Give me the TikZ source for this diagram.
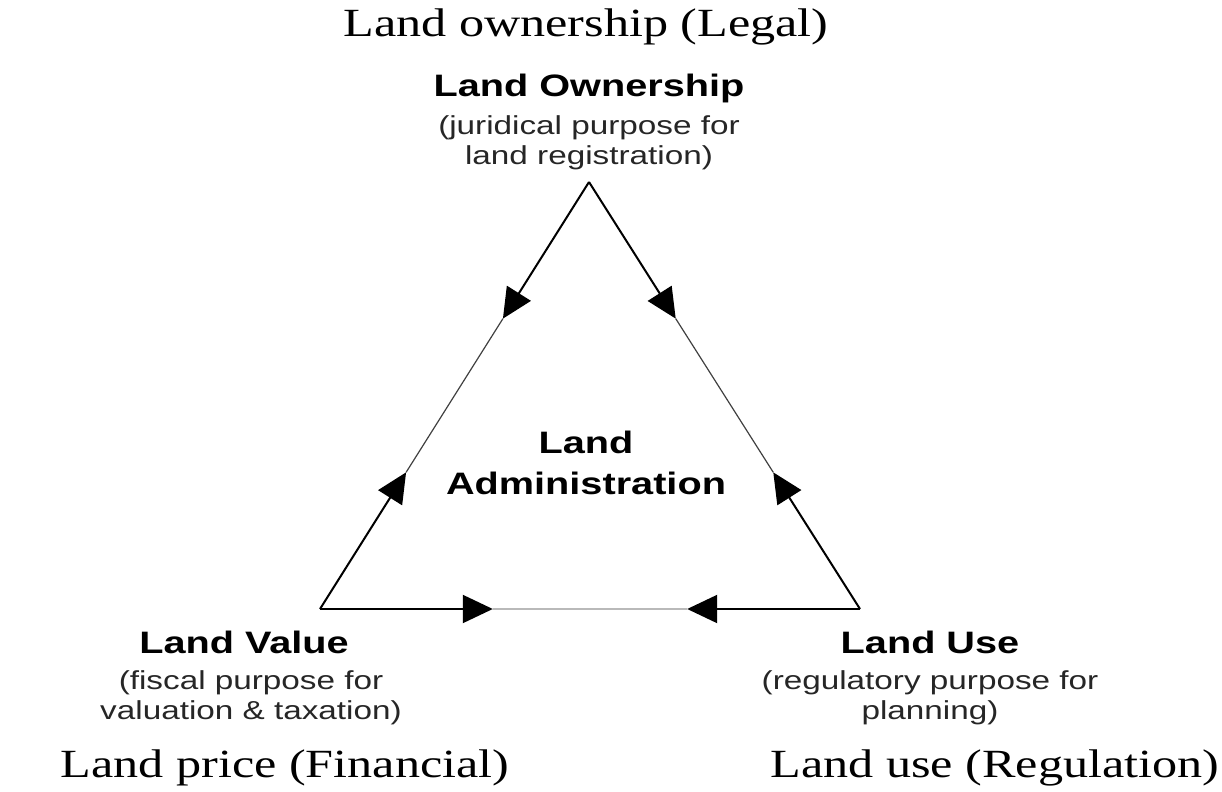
\documentclass[tikz,border=0pt]{standalone}
\usepackage{fontspec}
\setmainfont{Liberation Serif}[FakeStretch=1.255]
\newfontfamily\diagsans{Liberation Sans}[FakeStretch=1.28]
\usetikzlibrary{arrows.meta,calc}

\begin{document}
\begin{tikzpicture}[x=0.5pt,y=-0.5pt,
    side/.style={line width=1pt,-{Triangle[length=15pt,width=14pt]}},
    midline/.style={line width=0.6pt,black!75},
    title/.style={font=\diagsans\bfseries\fontsize{15.5}{20.5}\selectfont,align=center,anchor=base,inner sep=0pt},
    sub/.style={font=\diagsans\fontsize{13}{15}\selectfont,text=black!85,align=center,anchor=base,inner sep=0pt},
    view/.style={font=\fontsize{20}{24}\selectfont,anchor=base,inner sep=0pt}
  ]
  \useasboundingbox (0,0) rectangle (1222,792);

  % corners of the triangle
  \coordinate (own) at (589,182);
  \coordinate (val) at (320,609);
  \coordinate (use) at (860,609);
  \coordinate (ownval) at ($(own)!0.32!(val)$);
  \coordinate (valown) at ($(val)!0.32!(own)$);
  \coordinate (ownuse) at ($(own)!0.32!(use)$);
  \coordinate (useown) at ($(use)!0.32!(own)$);
  \coordinate (valuse) at ($(val)!0.32!(use)$);
  \coordinate (useval) at ($(use)!0.32!(val)$);

  % middle parts
  \draw[midline] (ownval) -- (valown);
  \draw[midline] (ownuse) -- (useown);
  \draw[line width=1pt,gray!55] (valuse) -- (useval);

  % arrows from each corner
  \draw[side] (own) -- (ownval);
  \draw[side] (own) -- (ownuse);
  \draw[side] (val) -- (valown);
  \draw[side] (val) -- (valuse);
  \draw[side] (use) -- (useown);
  \draw[side] (use) -- (useval);

  % labels
  \node[view] (legal) at (586,37) {Land ownership (Legal)};
  \node[title] (ownt) at (589,97) {Land Ownership};
  \node[sub] (owns) at (589,165) {(juridical purpose for\\land registration)};

  \node[title] (admin) at (586,494) {Land\\Administration};

  \node[title] (valt) at (244,653) {Land Value};
  \node[sub] (vals) at (251,719) {(fiscal purpose for\\valuation \& taxation)};
  \node[view] (fin) at (285,777) {Land price (Financial)};

  \node[title] (uset) at (930,653) {Land Use};
  \node[sub] (uses) at (930,719) {(regulatory purpose for\\planning)};
  \node[view] (reg) at (995,777) {Land use (Regulation)};
\end{tikzpicture}
\end{document}
